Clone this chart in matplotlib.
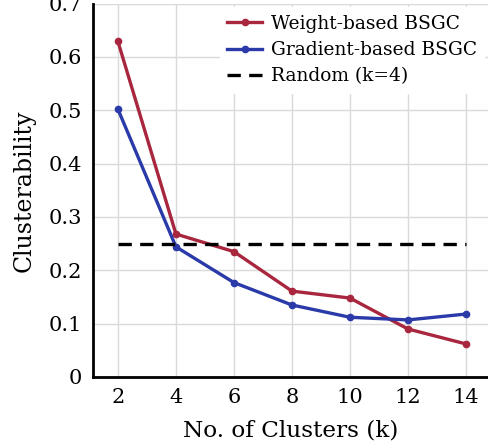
import matplotlib
matplotlib.use('Agg')
import matplotlib.pyplot as plt

# Data
k_values = [2, 4, 6, 8, 10, 12, 14]
weight_based = [0.629, 0.268, 0.235, 0.161, 0.148, 0.090, 0.062]
gradient_based = [0.502, 0.244, 0.177, 0.135, 0.112, 0.107, 0.118]
random_k4 = 0.25

plt.rcParams['font.family'] = 'DejaVu Serif'

fig = plt.figure(figsize=(4.88, 4.48), dpi=100)
ax = fig.add_axes([93 / 488, 1 - 377 / 448, 1 - 93 / 488, (377 - 3.6) / 448])

ax.plot(k_values, weight_based, color='#a8263e', linewidth=2.4, marker='o', markersize=4.5,
        label='Weight-based BSGC', zorder=3)
ax.plot(k_values, gradient_based, color='#2a3aa8', linewidth=2.4, marker='o', markersize=4.5,
        label='Gradient-based BSGC', zorder=3)
ax.plot([k_values[0], k_values[-1]], [random_k4, random_k4], color='black', linewidth=2.4,
        linestyle=(0, (4, 2.5)), label='Random (k=4)', zorder=3)

ax.set_xlim(1.14, 14.76)
ax.set_ylim(0, 0.7)
ax.set_xticks(k_values)
ax.set_yticks([0, 0.1, 0.2, 0.3, 0.4, 0.5, 0.6, 0.7])
ax.set_yticklabels(['0', '0.1', '0.2', '0.3', '0.4', '0.5', '0.6', '0.7'])
ax.tick_params(labelsize=15, length=0, pad=8)
ax.grid(True, color='#d9d9d9', linewidth=1)
ax.set_axisbelow(True)

for side in ['top', 'right']:
    ax.spines[side].set_visible(False)
for side in ['left', 'bottom']:
    ax.spines[side].set_linewidth(2)
    ax.spines[side].set_color('black')

ax.set_xlabel('No. of Clusters (k)', fontsize=16.7, labelpad=9)
ax.set_ylabel('Clusterability', fontsize=17, labelpad=9)

leg = ax.legend(loc='upper right', fontsize=13.4, frameon=True, fancybox=False, framealpha=1,
                edgecolor='white', handlelength=1.9, handletextpad=0.45, borderaxespad=0.2,
                labelspacing=0.45)

fig.savefig('out.png', dpi=100)
